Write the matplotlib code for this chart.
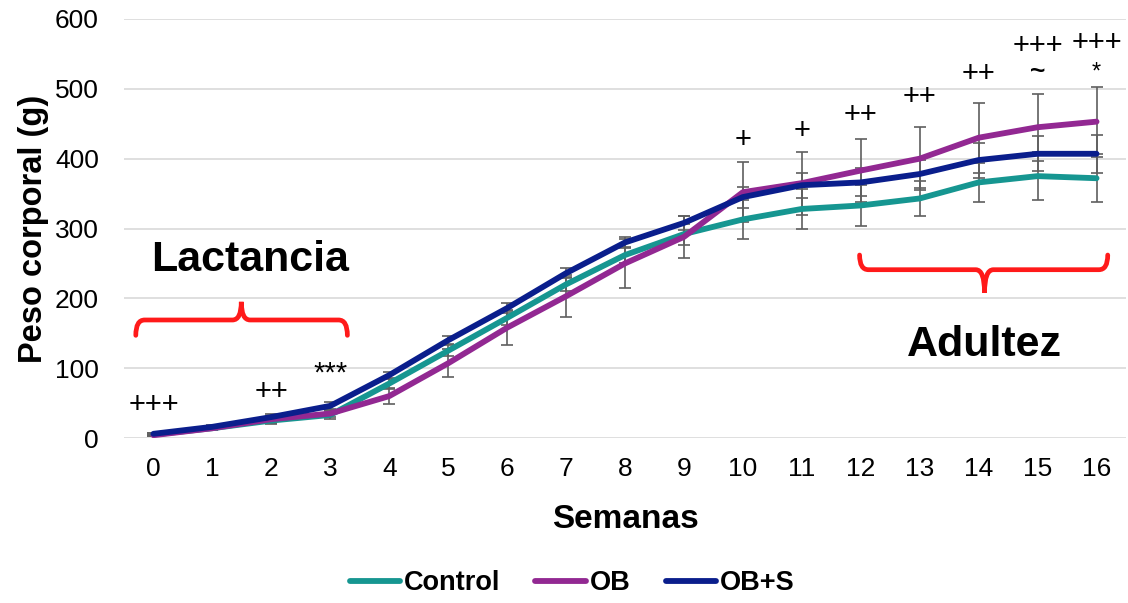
import numpy as np
import matplotlib
matplotlib.use('Agg')
import matplotlib.pyplot as plt
from matplotlib.path import Path
from matplotlib.patches import PathPatch

plt.rcParams['font.family'] = ['Liberation Sans', 'DejaVu Sans']

weeks = list(range(17))
control = [5, 14, 25, 33, 78, 125, 172, 220, 262, 292, 313, 328, 333, 343, 366, 375, 372]
ob = [4, 14, 27, 35, 60, 107, 158, 203, 250, 288, 352, 365, 383, 400, 430, 445, 453]
ob_s = [6, 16, 30, 46, 90, 140, 186, 236, 280, 308, 345, 362, 366, 378, 398, 407, 407]

control_err = [2, 2, 5, 6, 8, 8, 10, 10, 12, 15, 28, 28, 30, 25, 28, 34, 34]
ob_err = [1, 2, 5, 5, 12, 20, 25, 30, 35, 30, 43, 45, 45, 45, 50, 48, 50]
ob_s_err = [1, 2, 4, 5, 5, 6, 7, 7, 8, 10, 15, 18, 20, 20, 25, 25, 27]

# significance marks: (week, y value, text)
marks = [(0, 47, '+++'), (2, 66, '++'), (3, 92, '***'),
         (10, 427, '+'), (11, 440, '+'), (12, 463, '++'), (13, 488, '++'),
         (14, 521, '++'), (15, 562, '+++'), (15, 524, '~'),
         (16, 565, '+++'), (16, 523, '*')]

series = [
    ('Control', control, control_err, '#169691'),
    ('OB', ob, ob_err, '#922892'),
    ('OB+S', ob_s, ob_s_err, '#0A1E8C'),
]

fig = plt.figure(figsize=(11.28, 6.03), dpi=100)
ax = fig.add_axes([124 / 1128, 1 - 438 / 603, 1002 / 1128, 419 / 603])

for name, vals, err, color in series:
    ax.errorbar(weeks, vals, yerr=err, fmt='none', ecolor='#5f5f5f',
                elinewidth=1.2, capsize=4, capthick=1.2, zorder=2)
for name, vals, err, color in series:
    ax.plot(weeks, vals, color=color, lw=4.2, solid_capstyle='round',
            label=name, zorder=3)

for wk, yv, txt in marks:
    if txt == '*':
        size, weight = 17, 'normal'
    elif txt == '~':
        size, weight = 19, 'bold'
    else:
        size, weight = 21, 'normal'
    ax.text(wk, yv, txt, ha='center', va='center', fontsize=size,
            fontweight=weight, color='black')


def brace(ax, x0, x1, xm, y_end, y_line, y_tip, r=0.15):
    d = Path.CURVE3
    verts = [(x0, y_end), (x0, y_line), (x0 + r, y_line),
             (xm - r, y_line), (xm, y_line), (xm, y_tip),
             (xm, y_line), (xm + r, y_line),
             (x1 - r, y_line), (x1, y_line), (x1, y_end)]
    codes = [Path.MOVETO, d, d, Path.LINETO, d, d, d, d, Path.LINETO, d, d]
    patch = PathPatch(Path(verts, codes), fill=False, edgecolor='#FF1A1A',
                      lw=3.4, capstyle='round', clip_on=False, zorder=4)
    ax.add_patch(patch)


brace(ax, -0.3, 3.29, 1.49, 147, 169, 195)
brace(ax, 11.98, 16.19, 14.1, 262, 241, 208)

ax.text(1.64, 255, 'Lactancia', ha='center', va='center', fontsize=31,
        fontweight='bold')
ax.text(14.1, 133, 'Adultez', ha='center', va='center', fontsize=31,
        fontweight='bold')

ax.set_xlim(-0.5, 16.5)
ax.set_ylim(0, 600)
ax.set_xticks(weeks)
ax.set_yticks(range(0, 601, 100))
ax.tick_params(length=0, labelsize=19)
ax.tick_params(axis='y', pad=18)
ax.tick_params(axis='x', pad=14)
ax.grid(axis='y', color='#d9d9d9', lw=1.2)
ax.set_axisbelow(True)
for s in ax.spines.values():
    s.set_visible(False)

ax.set_xlabel('Semanas', fontsize=24, fontweight='bold', labelpad=16)
ax.set_ylabel('Peso corporal (g)', fontsize=23.5, fontweight='bold', labelpad=4)

leg = fig.legend(loc='center', bbox_to_anchor=(572 / 1128, 1 - 583 / 603), ncol=3,
                 frameon=False, handlelength=1.85, columnspacing=1.3,
                 handletextpad=0.15, prop={'weight': 'bold', 'size': 19.5})

fig.savefig('out.png', dpi=100)
